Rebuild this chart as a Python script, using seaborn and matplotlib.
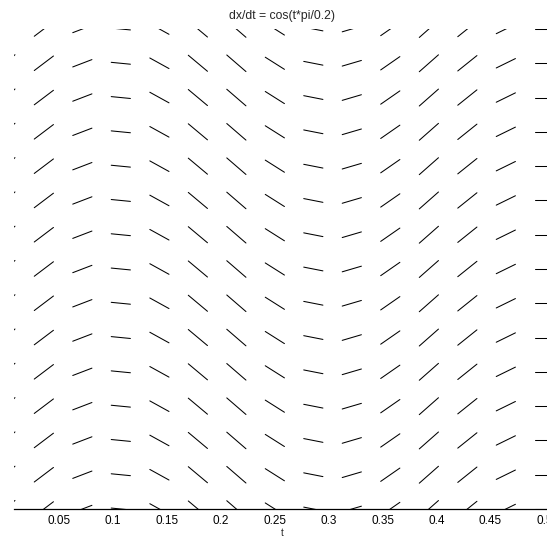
import numpy as np
import pandas as pd
import matplotlib
matplotlib.use("Agg")
import matplotlib.pyplot as plt
import seaborn as sns

# ── data: slope field of dx/dt = cos(t*pi/0.2) ──────────────
t_vals = [0.0, 0.0357, 0.0714, 0.1071, 0.1429, 0.1786, 0.2143, 0.25,
          0.2857, 0.3214, 0.3571, 0.3929, 0.4286, 0.4643, 0.5]
x_vals = [0.0, 0.0357, 0.0714, 0.1071, 0.1429, 0.1786, 0.2143, 0.25,
          0.2857, 0.3214, 0.3571, 0.3929, 0.4286, 0.4643, 0.5]
# slope read for each column of t
slopes = [1.0, 0.85, 0.43, -0.11, -0.62, -0.94, -0.97, -0.71,
          -0.22, 0.33, 0.78, 0.99, 0.90, 0.55, 0.0]
xtick_vals = [0.05, 0.1, 0.15, 0.2, 0.25, 0.3, 0.35, 0.4, 0.45, 0.5]
xtick_labels = ["0.05", "0.1", "0.15", "0.2", "0.25", "0.3", "0.35", "0.4", "0.45", "0.5"]
title = "dx/dt = cos(t*pi/0.2)"
xlabel = "t"

# half length (in t) of every little segment
half = 0.0089

# build one row per segment end point
rows = []
seg = 0
for t, s in zip(t_vals, slopes):
    for x in x_vals:
        rows.append({"t": t - half, "x": x - half * s, "seg": seg})
        rows.append({"t": t + half, "x": x + half * s, "seg": seg})
        seg += 1
df = pd.DataFrame(rows)

sns.set_style("white")
plt.rcParams["font.family"] = ["Liberation Sans", "DejaVu Sans"]

fig = plt.figure(figsize=(5.47, 5.38), dpi=100)
ax = fig.add_axes([14 / 547, 29 / 538, 535.7 / 547, 480 / 538])

sns.lineplot(data=df, x="t", y="x", units="seg", estimator=None,
             color="black", linewidth=0.75, ax=ax, legend=False)

ax.set_xlim(0.008, 0.505)
ax.set_ylim(0, 0.5)

for side in ["top", "right", "left"]:
    ax.spines[side].set_visible(False)
ax.spines["bottom"].set_color("black")
ax.spines["bottom"].set_linewidth(0.9)

ax.set_xticks(xtick_vals)
ax.set_xticklabels(xtick_labels)
ax.set_yticks([])
ax.tick_params(axis="x", direction="in", length=5, width=0.8,
               labelsize=8.5, pad=4, colors="black")
ax.set_xlabel(xlabel, fontsize=7, labelpad=1)
ax.set_ylabel("")
ax.set_title(title, fontsize=8.8, pad=7.5)

fig.savefig("out.png", dpi=100)
